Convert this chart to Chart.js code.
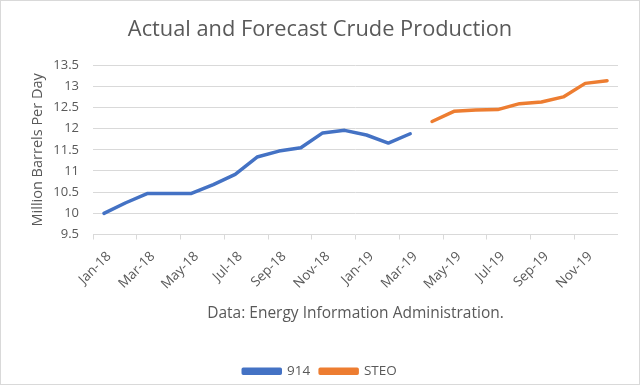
<!DOCTYPE html>
<html>
<head>
<meta charset="utf-8">
<script src="https://cdn.jsdelivr.net/npm/chart.js@4.4.1/dist/chart.umd.min.js"></script>
<style>
  html, body { margin: 0; padding: 0; background: #fff; }
  #wrap {
    width: 640px; height: 385px;
    box-sizing: border-box;
    border: 1px solid #d9d9d9;
  }
</style>
</head>
<body>
<div id="wrap"><canvas id="crudeChart"></canvas></div>
<script>
const months = [
    "Jan-18", "Feb-18", "Mar-18", "Apr-18", "May-18", "Jun-18",
    "Jul-18", "Aug-18", "Sep-18", "Oct-18", "Nov-18", "Dec-18",
    "Jan-19", "Feb-19", "Mar-19", "Apr-19", "May-19", "Jun-19",
    "Jul-19", "Aug-19", "Sep-19", "Oct-19", "Nov-19", "Dec-19"
];

// actual (EIA-914), Jan-18 .. Mar-19
const actual914 = [
    10.0, 10.25, 10.47, 10.47, 10.47, 10.68, 10.92, 11.33, 11.47, 11.55,
    11.9, 11.96, 11.85, 11.66, 11.88,
    null, null, null, null, null, null, null, null, null
];

// forecast (STEO), Apr-19 .. Dec-19
const steo = [
    null, null, null, null, null, null, null, null, null, null,
    null, null, null, null, null,
    12.17, 12.41, 12.44, 12.45, 12.59, 12.63, 12.75, 13.07, 13.13
];

const yTicks = [9.5, 10, 10.5, 11, 11.5, 12, 12.5, 13, 13.5];

const textColor = "#595959";
const gridColor = "#d9d9d9";
const fontFamily = "'Open Sans', sans-serif";

const ctx = document.getElementById("crudeChart");

new Chart(ctx, {
    type: "line",
    data: {
        labels: months,
        datasets: [{
            label: "914",
            data: actual914,
            borderColor: "#4472c4",
            backgroundColor: "#4472c4",
            borderWidth: 3.5,
            borderCapStyle: "round",
            borderJoinStyle: "round",
            pointRadius: 0,
            tension: 0
        }, {
            label: "STEO",
            data: steo,
            borderColor: "#ed7d31",
            backgroundColor: "#ed7d31",
            borderWidth: 3.5,
            borderCapStyle: "round",
            borderJoinStyle: "round",
            pointRadius: 0,
            tension: 0
        }]
    },
    options: {
        responsive: true,
        maintainAspectRatio: false,
        animation: false,
        layout: {
            padding: { left: 0, right: 0, top: 0, bottom: -4 }
        },
        plugins: {
            title: {
                display: true,
                text: "Actual and Forecast Crude Production",
                color: textColor,
                font: { family: fontFamily, size: 21.8, weight: "normal" },
                padding: { top: 16, bottom: 22 }
            },
            legend: {
                position: "bottom",
                labels: {
                    color: textColor,
                    font: { family: fontFamily, size: 13.5 },
                    boxWidth: 37,
                    boxHeight: 4,
                    padding: 10
                }
            },
            tooltip: { enabled: false }
        },
        scales: {
            x: {
                offset: true,
                grid: {
                    offset: true,
                    drawOnChartArea: false,
                    drawTicks: true,
                    tickLength: 5,
                    color: (c) => c.index % 2 === 0 ? gridColor : "rgba(0,0,0,0)"
                },
                border: { display: false },
                ticks: {
                    autoSkip: false,
                    minRotation: 45,
                    maxRotation: 45,
                    padding: 9,
                    labelOffset: 5,
                    color: textColor,
                    font: { family: fontFamily, size: 13.5 },
                    callback: function (value, index) {
                        return index % 2 === 0 ? months[index] : "";
                    }
                },
                title: {
                    display: true,
                    text: "Data: Energy Information Administration.",
                    color: textColor,
                    font: { family: fontFamily, size: 15.5 },
                    padding: { top: 0, bottom: 32 }
                },
                afterFit: (scale) => { scale.height = 120; }
            },
            y: {
                min: 9.5,
                max: 13.5,
                afterBuildTicks: (scale) => {
                    scale.ticks = yTicks.map(v => ({ value: v }));
                },
                grid: {
                    color: gridColor,
                    drawTicks: false
                },
                border: { display: false },
                ticks: {
                    padding: 14,
                    color: textColor,
                    font: { family: fontFamily, size: 13 },
                    callback: (v) => String(v)
                },
                title: {
                    display: true,
                    text: "Million Barrels Per Day",
                    color: textColor,
                    font: { family: fontFamily, size: 14.5 },
                    padding: { top: 28, bottom: 0 }
                },
                afterFit: (scale) => { scale.width = 92; }
            },
            // empty right-hand axis, only reserves the gap after the plot
            yRight: {
                position: "right",
                grid: { display: false },
                border: { display: false },
                ticks: { display: false },
                afterFit: (scale) => { scale.width = 21; }
            }
        }
    }
});
</script>
</body>
</html>
